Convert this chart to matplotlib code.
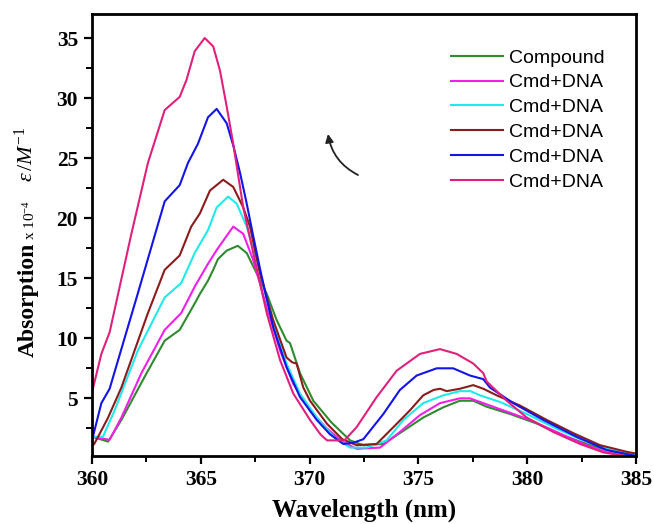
import matplotlib
matplotlib.use("Agg")
import matplotlib.pyplot as plt
from matplotlib.ticker import MultipleLocator

plt.rcParams['mathtext.fontset'] = 'custom'
plt.rcParams['mathtext.rm'] = 'Liberation Serif'
plt.rcParams['mathtext.it'] = 'Liberation Serif:italic'
plt.rcParams['mathtext.bf'] = 'Liberation Serif:bold'

# ---------------- data ----------------
wl_compound = [360.0, 360.74, 361.35, 362.42, 363.34, 364.03, 364.72, 364.96, 365.33, 365.57,
               365.79, 366.19, 366.7, 367.11, 367.57, 368.03, 368.49, 368.94, 369.1, 369.56,
               370.17, 371.0, 371.86, 372.47, 373.39, 374.31, 375.22, 376.14, 376.9, 377.52,
               378.14, 379.21, 380.44, 381.66, 382.89, 383.96, 384.9]
abs_compound = [1.8, 1.4, 3.2, 6.8, 9.8, 10.7, 12.9, 13.7, 14.8, 15.7,
                16.6, 17.3, 17.7, 17.1, 15.4, 13.7, 11.5, 9.8, 9.6, 7.1,
                4.8, 3.0, 1.5, 1.1, 1.2, 2.3, 3.4, 4.25, 4.8, 4.8,
                4.3, 3.7, 2.9, 1.9, 1.1, 0.55, 0.25]

wl_dna1 = [360.0, 360.81, 361.35, 362.27, 363.34, 364.1, 364.72, 365.33, 365.75, 366.49,
           366.95, 367.41, 368.03, 368.64, 369.25, 370.02, 370.79, 371.5, 372.16, 373.24,
           374.15, 375.07, 375.99, 376.9, 377.37, 377.83, 378.9, 380.13, 381.35, 382.58,
           383.65, 384.4]
abs_dna1 = [1.8, 1.55, 3.4, 7.1, 10.7, 12.1, 14.3, 16.2, 17.4, 19.3,
            18.7, 16.5, 12.6, 9.0, 6.2, 4.0, 2.5, 1.4, 0.8, 0.9,
            2.2, 3.6, 4.6, 5.0, 5.0, 4.7, 4.0, 3.2, 2.2, 1.2,
            0.5, 0.25]

wl_dna2 = [360.0, 360.5, 361.04, 362.11, 363.34, 364.1, 364.72, 365.33, 365.73, 366.26,
           366.65, 367.11, 367.57, 368.18, 368.94, 369.56, 370.33, 371.1, 371.86, 372.62,
           373.54, 374.31, 375.22, 376.14, 376.9, 377.4, 377.83, 378.75, 379.98, 381.2,
           382.43, 383.65, 384.57, 385.0]
abs_dna2 = [1.8, 1.8, 4.0, 9.0, 13.4, 14.6, 17.1, 19.0, 20.9, 21.8,
            21.2, 19.3, 16.5, 12.1, 7.9, 5.4, 3.4, 1.8, 0.9, 0.9,
            1.5, 3.2, 4.6, 5.25, 5.6, 5.6, 5.25, 4.7, 3.7, 2.6,
            1.6, 0.8, 0.4, 0.3]

wl_dna3 = [360.1, 360.28, 360.74, 361.35, 362.57, 363.34, 364.03, 364.56, 364.96, 365.42,
           366.03, 366.49, 366.95, 367.26, 367.72, 368.33, 368.94, 369.2, 369.4, 369.71,
           370.02, 370.79, 371.5, 372.16, 373.08, 373.85, 374.61, 375.22, 375.7, 376.0,
           376.3, 376.91, 377.52, 377.98, 378.6, 379.67, 380.9, 382.12, 383.35, 384.57, 385.0]
abs_dna3 = [1.2, 1.8, 3.4, 5.9, 12.1, 15.7, 16.9, 19.3, 20.4, 22.3,
            23.2, 22.6, 20.9, 19.3, 15.4, 11.5, 8.4, 8.0, 7.9, 5.9,
            4.8, 2.9, 1.6, 1.1, 1.2, 2.6, 4.0, 5.25, 5.7, 5.8,
            5.6, 5.8, 6.1, 5.8, 5.25, 4.4, 3.2, 2.1, 1.1, 0.55, 0.4]

wl_dna4 = [360.0, 360.43, 360.81, 362.1, 363.34, 364.03, 364.41, 364.87, 365.33, 365.73,
           366.19, 366.5, 366.8, 367.1, 367.4, 367.72, 368.33, 368.94, 369.56, 370.33,
           370.94, 371.55, 372.0, 372.47, 373.39, 374.15, 374.92, 375.84, 376.6, 377.37,
           377.98, 378.29, 379.36, 380.74, 382.27, 383.65, 384.88]
abs_dna4 = [1.5, 4.6, 5.8, 13.7, 21.4, 22.75, 24.6, 26.2, 28.4, 29.1,
            27.9, 26.0, 23.8, 21.3, 18.6, 15.8, 10.9, 7.6, 5.1, 3.2,
            2.0, 1.2, 1.3, 1.6, 3.7, 5.7, 6.9, 7.5, 7.5, 6.9,
            6.6, 5.9, 4.6, 3.2, 1.8, 0.7, 0.25]

wl_dna5 = [360.0, 360.43, 360.81, 361.81, 362.57, 363.34, 364.03, 364.34, 364.72, 365.18,
           365.57, 365.88, 366.19, 366.49, 366.95, 367.41, 368.03, 368.64, 369.25, 370.02,
           370.5, 370.8, 371.6, 372.16, 373.08, 374.0, 375.07, 375.99, 376.76, 377.52,
           377.98, 378.14, 379.06, 379.98, 381.2, 382.43, 383.5, 384.4]
abs_dna5 = [5.5, 8.7, 10.5, 18.7, 24.6, 29.0, 30.1, 31.5, 33.9, 35.0,
            34.3, 32.3, 29.3, 26.2, 20.9, 17.1, 12.1, 8.2, 5.4, 3.2,
            2.0, 1.5, 1.5, 2.6, 5.1, 7.3, 8.7, 9.1, 8.7, 7.9,
            7.1, 6.4, 4.8, 3.4, 2.2, 1.2, 0.5, 0.25]

series_labels = ["Compound", "Cmd+DNA", "Cmd+DNA", "Cmd+DNA", "Cmd+DNA", "Cmd+DNA"]
series_colors = ["#2E8B2E", "#F21EEA", "#22EAEA", "#8B1C1C", "#1414E6", "#E0207C"]

x_ticks = [360, 365, 370, 375, 380, 385]
y_ticks = [5, 10, 15, 20, 25, 30, 35]

# ---------------- figure ----------------
W, H = 654, 524
fig = plt.figure(figsize=(W / 100, H / 100), dpi=100)
ax_l, ax_r, ax_t, ax_b = 92, 636, 14, 456
ax = fig.add_axes([ax_l / W, (H - ax_b) / H, (ax_r - ax_l) / W, (ax_b - ax_t) / H])

data = [(wl_compound, abs_compound), (wl_dna1, abs_dna1), (wl_dna2, abs_dna2),
        (wl_dna3, abs_dna3), (wl_dna4, abs_dna4), (wl_dna5, abs_dna5)]
for (x, y), lab, col in zip(data, series_labels, series_colors):
    ax.plot(x, y, color=col, lw=1.5, label=lab)

ax.set_xlim(360, 385)
ax.set_ylim(0.2, 37)
ax.set_xticks(x_ticks)
ax.set_yticks(y_ticks)
ax.xaxis.set_minor_locator(MultipleLocator(2.5))
ax.yaxis.set_minor_locator(MultipleLocator(2.5))
ax.tick_params(which='major', direction='out', length=6, width=1.6, pad=4,
               top=False, right=False, labelsize=15.5)
ax.tick_params(which='minor', direction='out', length=4, width=1.4,
               top=False, right=False)
for lbl in ax.get_xticklabels() + ax.get_yticklabels():
    lbl.set_family('Liberation Serif')
    lbl.set_fontweight('bold')
for sp in ax.spines.values():
    sp.set_linewidth(2.0)

ax.set_xlabel("Wavelength (nm)", family='Liberation Serif', fontweight='bold',
              fontsize=18, labelpad=6)

# y label in pieces
fig.text(28 / W, (H - 357) / H, "Absorption", rotation=90, ha='center', va='bottom',
         family='Liberation Serif', fontweight='bold', fontsize=17)
fig.text(30 / W, (H - 240) / H, r"x 10$^{-4}$", rotation=90, ha='center', va='bottom',
         family='Liberation Serif', fontsize=11)
fig.text(26 / W, (H - 182) / H, r"$\varepsilon\,/M^{-1}$", rotation=90, ha='center', va='bottom',
         family='Liberation Serif', fontsize=16)

leg = ax.legend(loc='upper left', bbox_to_anchor=((451 - ax_l) / (ax_r - ax_l), (ax_b - 49) / (ax_b - ax_t)),
                frameon=False, borderpad=0, borderaxespad=0, handlelength=2.65, handletextpad=0.32,
                labelspacing=0.37, prop={'family': 'Liberation Sans', 'size': 14})

# curved arrow
def px2data(px, py):
    return (360 + (px - ax_l) / (ax_r - ax_l) * 25, 0.2 + (ax_b - py) / (ax_b - ax_t) * 36.8)

ax.annotate("", xy=px2data(328, 134), xytext=px2data(358, 175),
            arrowprops=dict(arrowstyle='-|>', color='#222222', lw=1.3, mutation_scale=12,
                            connectionstyle='arc3,rad=-0.25', shrinkA=0, shrinkB=0))

fig.savefig("out.png", dpi=100)
